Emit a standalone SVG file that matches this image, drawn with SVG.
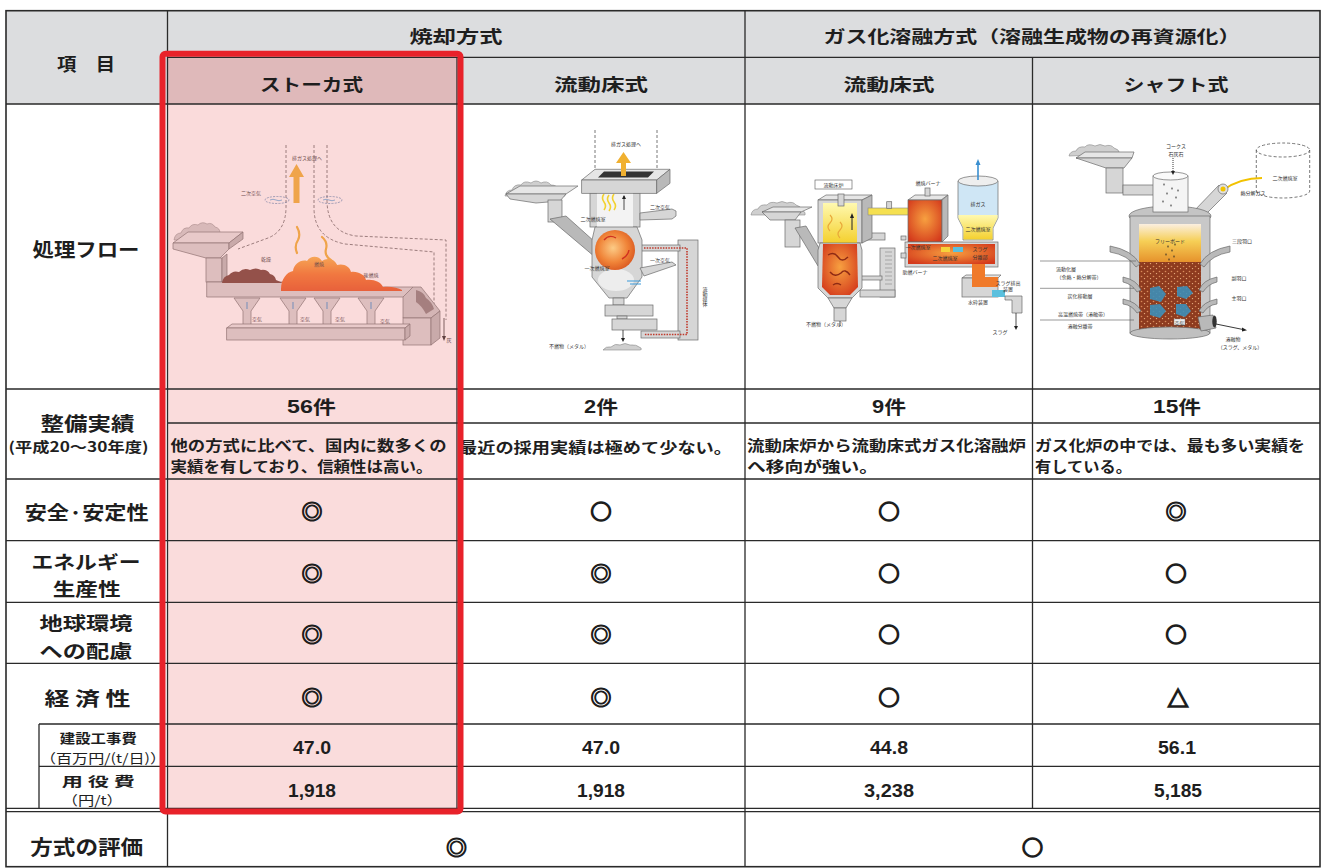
<svg xmlns="http://www.w3.org/2000/svg" width="1323" height="868" viewBox="0 0 1323 868">
<defs>
<style>
.j{font-family:"Noto Sans CJK JP","Noto Sans CJK SC",sans-serif;font-weight:700;fill:#1e1e1e;text-anchor:middle;dominant-baseline:central}
.r{font-weight:400}
.d{font-family:"Noto Sans CJK JP","Noto Sans CJK SC",sans-serif;font-weight:700;fill:#1e1e1e;dominant-baseline:central;font-size:14.5px}
.n{font-family:"Liberation Sans",Arial,sans-serif;font-weight:700;fill:#1e1e1e;text-anchor:middle;dominant-baseline:central;font-size:17.5px}
.m{font-family:"Noto Sans CJK JP","Noto Sans CJK SC",sans-serif;font-weight:700;fill:#1e1e1e;stroke:#1e1e1e;stroke-width:1;text-anchor:middle;dominant-baseline:central;font-size:21px}
.o{stroke-width:1.6}
.s{font-family:"Noto Sans CJK JP","Noto Sans CJK SC",sans-serif;font-weight:400;fill:#333;text-anchor:middle;dominant-baseline:central;font-size:5px}
.ln{stroke:#2a2a2a;stroke-width:1.3;fill:none}
.dash{stroke:#555;stroke-width:.8;stroke-dasharray:3 2;fill:none}
.gr{fill:#d6d6d6;stroke:#6a6a6a;stroke-width:.7}
.gl{fill:#e6e6e6;stroke:#6a6a6a;stroke-width:.7}
.gd{fill:#b9b9b9;stroke:#6a6a6a;stroke-width:.7}
.pile{fill:#cfcfcf;stroke:#8a8a8a;stroke-width:.6}
</style>
<linearGradient id="flame" x1="0" y1="0" x2="0" y2="1"><stop offset="0" stop-color="#F9B240"/><stop offset=".5" stop-color="#F27222"/><stop offset="1" stop-color="#E5501B"/></linearGradient>
<radialGradient id="ball" cx=".45" cy=".45" r=".6"><stop offset="0" stop-color="#FCCB86"/><stop offset=".6" stop-color="#F08438"/><stop offset="1" stop-color="#D9561F"/></radialGradient>
<linearGradient id="yel" x1="0" y1="0" x2="0" y2="1"><stop offset="0" stop-color="#FFF9B0"/><stop offset="1" stop-color="#F4D02E"/></linearGradient>
<radialGradient id="red" cx=".5" cy=".45" r=".65"><stop offset="0" stop-color="#F7A040"/><stop offset="1" stop-color="#D43A1C"/></radialGradient>
<linearGradient id="shaft" x1="0" y1="0" x2="0" y2="1"><stop offset="0" stop-color="#FBEFE0"/><stop offset=".45" stop-color="#F6CF56"/><stop offset="1" stop-color="#E6922C"/></linearGradient>
<pattern id="speck" width="6" height="5" patternUnits="userSpaceOnUse"><rect width="6" height="5" fill="#8E3B1F"/><circle cx="1.5" cy="1.5" r=".8" fill="#D98A5A"/><circle cx="4.5" cy="3.6" r=".7" fill="#EDB585"/></pattern>
</defs>

<!-- backgrounds -->
<g id="fills">
<rect x="0" y="0" width="1323" height="868" fill="#ffffff"/>
<rect x="6" y="10.7" width="1314" height="93.3" fill="#DCDDDF"/>
<rect x="167.5" y="57.3" width="289.5" height="46.7" fill="#DFB9BA"/>
<rect x="167.5" y="389" width="289.5" height="419.3" fill="#FADCDC"/>
</g>

<!-- 処理フロー: ストーカ式 -->
<g id="flow-stoker">
<path class="dash" d="M286,145 V207 Q286,231 268,238 L238,249"/>
<path class="dash" d="M314,145 V208 Q314,238 345,244 L434,252 V312"/>
<path class="dash" d="M327,145 V200 Q327,232 356,236 L446,240 V320"/>
<text class="s" x="307" y="157">排ガス処理へ</text>
<text class="s" x="251" y="192">二次空気</text>
<ellipse cx="277" cy="200" rx="12" ry="3.5" fill="none" stroke="#4d7fb0" stroke-width=".7" stroke-dasharray="2 1.2"/>
<ellipse cx="330" cy="200" rx="12" ry="3.5" fill="none" stroke="#4d7fb0" stroke-width=".7" stroke-dasharray="2 1.2"/>
<path d="M270,200 q3,-1.5 6,0 t6,0 M323,200 q3,-1.5 6,0 t6,0" stroke="#4d9fd8" stroke-width=".8" fill="none"/>
<polygon points="293.5,203 299.5,203 299.5,177 304,177 296.5,164 289,177 293.5,177" fill="#F0B030"/>
<path d="M297,253 q-3,-7 1,-13 q3,-6 -1,-13 M322,237 q6,5 4,12 q-2,7 6,12 q4,4 7,9" stroke="#F0B030" stroke-width="2.2" fill="none" stroke-linecap="round"/>
<path class="pile" d="M174,240 q1,-7 7,-7 q2,-6 8,-5 q3,-5 9,-3 q4,-4 9,-1 q5,-2 8,3 q5,1 5,6 q4,2 2,7 Z"/>
<polygon class="gl" points="173,243 188,232 243,232 229,243"/>
<polygon class="gr" points="173,243 229,243 229,249 220,258 206,258 173,249"/>
<polygon class="gd" points="229,243 243,232 243,239 229,249"/>
<rect class="gr" x="206" y="258" width="16" height="24"/>
<polygon class="gd" points="222,258 227,254 227,280 222,282"/>
<polygon class="gr" points="206.7,282 283,282 288,287 413,287 413,297 206.7,297"/>
<path d="M222,283 q1,-7 7,-8 q4,-5 10,-3 q5,-5 11,-2 q6,-3 11,0 q6,-1 9,4 q5,1 6,6 L283,283 Z" fill="#6E3A30"/>
<path d="M281,289 C281,279 287,272 293,271 C294,264 301,259 307,261 C311,255 319,256 322,261 C327,257 335,259 337,265 C344,263 350,267 351,272 C358,271 365,275 366,280 C374,279 381,282 383,287 C391,286 398,288 402,290 L402,291 L281,291 Z" fill="url(#flame)"/>
<polygon points="413,287 421,287 440,311 431,318 403,318 403,297" fill="#c9c9c9" stroke="#6a6a6a" stroke-width=".7"/>
<path d="M416,290 q8,2 10,8 q6,4 8,11 l-8,5 q-4,-8 -10,-12 Z" fill="#5a4a4a" opacity=".6"/>
<rect class="gr" x="403" y="318" width="28" height="27"/>
<polygon class="gd" points="431,318 440,311 440,338 431,345"/>
<g id="air-hoppers">
<polygon class="gr" points="234,298 260,298 251,311 251,326 243,326 243,311"/>
<polygon class="gr" points="280,298 306,298 297,311 297,326 289,326 289,311"/>
<polygon class="gr" points="314,298 340,298 331,311 331,326 323,326 323,311"/>
<polygon class="gr" points="358,298 384,298 375,311 375,326 367,326 367,311"/>
<path d="M247,309 V302 M293,309 V302 M327,309 V302 M371,309 V302" stroke="#3f8fd0" stroke-width="1"/>
</g>
<polygon class="gl" points="226.7,328 232,324 410,324 405,328"/>
<rect class="gr" x="226.7" y="328" width="178.3" height="12"/>
<polygon class="gd" points="405,328 410,324 410,336 405,340"/>
<line x1="444" y1="318" x2="444" y2="337" stroke="#222" stroke-width=".8"/>
<polygon points="442,336 446,336 444,341" fill="#222"/>
<text class="s" x="449" y="339">灰</text>
<text class="s" x="266" y="258">乾燥</text>
<text class="s" x="319" y="263">燃焼</text>
<text class="s" x="371" y="274">後燃焼</text>
<text class="s" x="257" y="318">空気</text>
<text class="s" x="305" y="318">空気</text>
<text class="s" x="340" y="318">空気</text>
<text class="s" x="385" y="320">空気</text>
</g>
<rect x="167.5" y="104" width="289.5" height="285" fill="#EE8787" opacity=".3"/>

<!-- 処理フロー: 焼却 流動床式 -->
<g id="flow-fluidized">
<path class="dash" d="M595,130 V169 M657,130 V169"/>
<text class="s" x="626" y="143">排ガス処理へ</text>
<path class="pile" d="M505,196 q1,-6 7,-6 q2,-6 9,-5 q3,-5 10,-2 q5,-4 10,0 q6,-3 10,2 q6,0 8,5 q6,1 6,6 Z"/>
<polygon class="gl" points="506,194 520,186 578,186 566,194"/>
<polygon class="gr" points="506,194 566,194 560,201 536,203 510,199"/>
<rect class="gr" x="548" y="200" width="14" height="22"/>
<polygon class="gd" points="550,219 566,216 595,242 595,257"/>
<rect class="gr" x="678" y="240" width="20" height="100"/>
<rect class="gr" x="641" y="245" width="39" height="6"/>
<rect class="gr" x="641" y="331" width="39" height="7"/>
<path d="M644,248 H687 V334.5 H644" stroke="#C0392B" stroke-width="1.6" stroke-dasharray="1.5 1.2" fill="none"/>
<text class="s" x="705" y="297" style="writing-mode:vertical-rl">流動媒体</text>
<rect class="gr" x="590" y="193" width="50" height="34"/>
<rect x="597" y="193" width="36" height="34" fill="#f3f3f3"/>
<path d="M604,210 q3,-4 0,-8 q-3,-4 0,-8 M609,211 q3,-4 0,-8 q-3,-4 0,-8 M614,210 q3,-4 0,-8 q-3,-4 0,-8" stroke="#F2D230" stroke-width="1.6" fill="none"/>
<polygon class="gr" points="640,213 672,209 676,211 676,216 672,219 640,220"/>
<text class="s" x="660" y="206">二次空気</text>
<text class="s" x="593" y="218">二次燃焼室</text>
<line x1="624" y1="196" x2="624" y2="210" stroke="#222" stroke-width=".8"/>
<polygon points="622,199 626,199 624,195" fill="#222"/>
<path class="gr" d="M595,227 L637,227 L642,240 L642,277 L627,298 L609,298 L592,277 L592,240 Z"/>
<ellipse cx="616" cy="280" rx="18" ry="11" fill="#ededed"/>
<circle cx="615" cy="250" r="20" fill="url(#ball)"/>
<path d="M604,240 q5,-6 12,-2 M622,259 q6,-3 7,-9" stroke="#D03020" stroke-width="1.4" fill="none"/>
<polygon class="gr" points="640,268 672,262 676,265 644,276"/>
<path d="M627,281 H641 M630,284 H641" stroke="#3A9AD9" stroke-width="1.2"/>
<text class="s" x="660" y="259">一次空気</text>
<text class="s" x="597" y="267">一次燃焼室</text>
<rect class="gr" x="613" y="298" width="11" height="7"/>
<rect class="gr" x="605" y="305" width="48" height="11"/>
<rect class="gr" x="617" y="316" width="10" height="3"/>
<rect class="gr" x="612" y="319" width="45" height="11"/>
<line x1="623" y1="330" x2="623" y2="339" stroke="#222" stroke-width=".8"/>
<polygon points="621,338 625,338 623,342" fill="#222"/>
<path class="pile" d="M603,350 q3,-4 8,-3 q4,-4 9,-2 q5,-3 10,0 q6,-1 11,3 q1,2 -1,2 Z"/>
<text class="s" x="569" y="345">不燃物（メタル）</text>
<polygon class="gl" points="581.7,180 595,169.3 670,169.3 656.7,180"/>
<polygon points="598,177.5 604,171.5 654,171.5 648,177.5" fill="#333"/>
<rect class="gr" x="581.7" y="180" width="75" height="13.3"/>
<polygon class="gd" points="656.7,180 670,169.3 670,183.3 656.7,193.3"/>
<polygon points="621,176 626,176 626,163 631,163 623.5,152 616,163 621,163" fill="#F0B030"/>
</g>

<!-- 処理フロー: ガス化 流動床式 -->
<g id="flow-gasfluid">
<path class="pile" d="M751,215 q1,-6 7,-6 q2,-5 9,-4 q3,-4 10,-2 q5,-3 10,0 q6,-2 9,2 q5,1 7,6 q3,1 2,4 Z"/>
<polygon class="gl" points="762,212 773,207 812,207 801,212"/>
<polygon class="gr" points="762,212 801,212 795,220 770,220"/>
<rect class="gr" x="785" y="220" width="15" height="27"/>
<polygon class="gd" points="795,228 806,226 826,260 818,266"/>
<rect x="815" y="180" width="37" height="9" fill="#fff" stroke="#555" stroke-width=".6"/>
<text class="s" x="833.5" y="184.5">流動床炉</text>
<rect class="gr" x="860" y="233" width="25" height="7"/>
<rect class="gr" x="880" y="248" width="15" height="49"/>
<path d="M885,252 H892 M885,256 H892 M885,260 H892 M885,264 H892 M885,268 H892 M885,272 H892 M885,276 H892 M885,280 H892 M885,284 H892" stroke="#777" stroke-width=".5"/>
<rect class="gr" x="860" y="276" width="22" height="4"/>
<rect class="gr" x="860" y="290" width="35" height="7"/>
<polygon class="gl" points="818,200 826,195 872,195 862,200"/>
<rect class="gr" x="818" y="200" width="44" height="43"/>
<rect x="823" y="203" width="34" height="40" fill="url(#yel)"/>
<polygon class="gd" points="862,200 872,195 872,238 862,243"/>
<rect class="gr" x="838" y="194" width="6" height="12"/>
<line x1="852" y1="230" x2="852" y2="216" stroke="#222" stroke-width="1"/>
<polygon points="850,218 854,218 852,213" fill="#222"/>
<path d="M830,215 q4,4 0,8 q-4,4 0,8 M840,222 q4,4 0,8 q-4,4 0,8" stroke="#E9A93A" stroke-width="1.2" fill="none"/>
<path class="gr" d="M820,243 L860,243 L862,250 L862,288 L852,298 L828,298 L818,288 L818,250 Z"/>
<path d="M823,244 L857,244 L858,287 L850,295 L830,295 L822,287 Z" fill="url(#red)"/>
<path d="M828,255 q6,-4 10,2 q4,6 10,0 M830,272 q5,6 11,1 q4,-5 9,2 M833,285 q4,-3 8,0" stroke="#8E2A14" stroke-width="1.4" fill="none"/>
<polygon class="gr" points="828,298 852,298 846,308 834,308"/>
<rect class="gr" x="834" y="308" width="12" height="13"/>
<line x1="840" y1="321" x2="840" y2="326" stroke="#222" stroke-width=".8"/>
<text class="s" x="826" y="323">不燃物（メタル）</text>
<rect x="868" y="208" width="44" height="7" fill="#F5E050" stroke="#888" stroke-width=".6"/>
<rect class="gr" x="886.7" y="201.7" width="5" height="6.6"/>
<polygon class="gl" points="908,200 915,195 948,195 941,200"/>
<rect x="908" y="200" width="34" height="42" fill="url(#red)" stroke="#6a6a6a" stroke-width=".7"/>
<polygon class="gd" points="942,200 948,195 948,236 942,242"/>
<rect class="gr" x="925" y="188" width="5" height="8"/>
<text class="s" x="928" y="182">燃焼バーナ</text>
<rect class="gr" x="905" y="242" width="93" height="25"/>
<rect x="908" y="244" width="87" height="20" fill="url(#red)"/>
<rect x="941" y="247" width="9" height="5" fill="#F5D33A"/>
<rect x="953" y="247" width="10" height="5" fill="#5BC0DE"/>
<rect class="gr" x="901" y="236" width="5" height="4"/>
<rect class="gr" x="901" y="253" width="5" height="5"/>
<text class="s" x="918" y="246">一次燃焼室</text>
<text class="s" x="945" y="257">二次燃焼室</text>
<text class="s" x="980" y="248">スラグ</text>
<text class="s" x="980" y="256">分離部</text>
<text class="s" x="915" y="271">助燃バーナ</text>
<path d="M958,181 L958,218 L963,228 L963,240 L993,240 L993,228 L998,218 L998,181 Z" fill="#cfe6f5" stroke="#6a6a6a" stroke-width=".7"/>
<path d="M958.4,215 L958.4,218 L963.4,228 L963.4,239.6 L992.6,239.6 L992.6,228 L997.6,218 L997.6,215 Z" fill="url(#yel)"/>
<ellipse cx="978" cy="181" rx="20" ry="5" fill="#eeeeee" stroke="#6a6a6a" stroke-width=".7"/>
<line x1="978" y1="180" x2="978" y2="164" stroke="#3A8FD0" stroke-width="1.6"/>
<polygon points="975.5,165 980.5,165 978,159" fill="#3A8FD0"/>
<text class="s" x="978" y="203">排ガス</text>
<text class="s" x="978" y="228">二次燃焼室</text>
<polygon class="gl" points="962,278 966,275 1001,275 998,278"/>
<rect class="gr" x="962" y="278" width="36" height="19"/>
<path d="M972,264 H985 V277 H998 V287 H972 Z" fill="#F07A2A"/>
<rect x="992" y="290" width="13" height="7" fill="#5BC0DE"/>
<polygon class="gr" points="1005,296 1022,296 1022,313 1012,313 1012,300 1005,300"/>
<line x1="1016" y1="313" x2="1016" y2="327" stroke="#222" stroke-width=".8"/>
<polygon points="1014,326 1018,326 1016,330" fill="#222"/>
<text class="s" x="1008" y="282">スラグ排出</text>
<text class="s" x="1008" y="288">装置</text>
<text class="s" x="978" y="301">水砕装置</text>
<text class="s" x="1000" y="331">スラグ</text>
</g>

<!-- 処理フロー: シャフト式 -->
<g id="flow-shaft">
<path class="pile" d="M1069,156 q1,-5 7,-5 q2,-5 9,-4 q3,-4 10,-1 q5,-3 10,0 q6,-2 9,2 q5,1 6,6 Z"/>
<polygon class="gl" points="1076,158 1085,152 1134,152 1132,158"/>
<polygon class="gr" points="1076,158 1132,158 1124,168 1106,168"/>
<rect class="gr" x="1106" y="168" width="17" height="25"/>
<rect class="gr" x="1123" y="185" width="33" height="10"/>
<path class="dash" d="M1256.3,150 V191 M1309.7,150 V191 M1256.3,191 A26.7,7 0 0 0 1309.7,191"/>
<ellipse cx="1283" cy="150" rx="26.7" ry="7" fill="none" stroke="#555" stroke-width=".8" stroke-dasharray="3 2"/>
<text class="s" x="1285" y="177">二次燃焼室</text>
<text class="s" x="1253" y="192">熱分解ガス</text>
<path d="M1223,190 Q1240,178 1262,178" stroke="#F2C200" stroke-width="2" fill="none"/>
<polygon class="gr" points="1193,212 1219,185 1227,193 1201,219"/>
<circle cx="1223" cy="189" r="5" fill="#e0e0e0" stroke="#6a6a6a" stroke-width=".7"/>
<circle cx="1223" cy="189" r="2.5" fill="#F2C200"/>
<ellipse cx="1170" cy="216" rx="41" ry="10" fill="#c4c4c4" stroke="#6a6a6a" stroke-width=".7"/>
<rect x="1130" y="216" width="80" height="117" fill="#c8c8c8" stroke="#6a6a6a" stroke-width=".7"/>
<rect x="1139" y="224" width="62" height="38" fill="url(#shaft)"/>
<rect x="1139" y="262" width="62" height="68" fill="url(#speck)"/>
<path d="M1150,288 l9,-2 l7,8 l-5,8 l-11,-3 Z M1177,287 l10,-1 l6,7 l-7,6 l-9,-3 Z M1150,305 l10,-1 l6,7 l-6,7 l-10,-3 Z M1176,304 l10,0 l5,7 l-6,6 l-9,-3 Z" fill="#3D8FB8" opacity=".9"/>
<path d="M1168,246 v1 M1172,250 v1 M1166,254 v1 M1174,256 v1 M1169,259 v1 M1175,244 v1" stroke="#222" stroke-width="1" stroke-linecap="round"/>
<text class="s" x="1170" y="240">フリーボード</text>
<ellipse cx="1170" cy="333" rx="40" ry="6" fill="#c0c0c0" stroke="#6a6a6a" stroke-width=".7"/>
<rect x="1153" y="176" width="35" height="36" fill="#f4f4f4" stroke="#6a6a6a" stroke-width=".7"/>
<ellipse cx="1170.5" cy="176" rx="17.5" ry="4" fill="#fafafa" stroke="#6a6a6a" stroke-width=".7"/>
<path d="M1164,184 v1 M1172,188 v1 M1167,193 v1 M1176,197 v1 M1163,201 v1 M1171,205 v1 M1178,190 v1" stroke="#222" stroke-width="1" stroke-linecap="round"/>
<line x1="1173" y1="158" x2="1173" y2="172" stroke="#222" stroke-width=".9" stroke-dasharray="1 1"/>
<polygon points="1171,171 1175,171 1173,175" fill="#222"/>
<text class="s" x="1176" y="145">コークス</text>
<text class="s" x="1176" y="153">石灰石</text>
<g id="tuyeres">
<path class="gd" d="M1110,246 Q1132,250 1140,264 L1136,267 Q1128,255 1110,252 Z"/>
<path class="gd" d="M1230,246 Q1208,250 1200,264 L1204,267 Q1212,255 1230,252 Z"/>
<path class="gd" d="M1123,277 Q1137,280 1141,290 L1137,292 Q1132,284 1123,282 Z"/>
<path class="gd" d="M1217,277 Q1203,280 1199,290 L1203,292 Q1208,284 1217,282 Z"/>
<path class="gd" d="M1123,299 Q1137,302 1141,311 L1137,313 Q1132,305 1123,304 Z"/>
<path class="gd" d="M1217,299 Q1203,302 1199,311 L1203,313 Q1208,305 1217,304 Z"/>
</g>
<path d="M1040,261 H1136 M1040,288.3 H1134 M1040,320 H1134" stroke="#555" stroke-width=".6"/>
<text class="s" x="1066" y="268.5">流動化層</text>
<text class="s" x="1079" y="276.5">（余熱・熱分解帯）</text>
<text class="s" x="1080" y="295">炭化移動層</text>
<text class="s" x="1083" y="313.5">高温燃焼帯（溶融帯）</text>
<text class="s" x="1080" y="325">溶融分離帯</text>
<text class="s" x="1242" y="240">三段羽口</text>
<text class="s" x="1239" y="277">副羽口</text>
<text class="s" x="1239" y="297">主羽口</text>
<polygon class="gd" points="1198,317 1213,315 1216,328 1201,331"/>
<ellipse cx="1214.5" cy="321.5" rx="2.2" ry="6" fill="#333"/>
<line x1="1216" y1="324" x2="1243" y2="329.5" stroke="#222" stroke-width=".9"/>
<polygon points="1242,327.5 1242,331.5 1247,330.2" fill="#222"/>
<rect x="1174" y="319" width="11" height="6" fill="#eee" stroke="#777" stroke-width=".4"/>
<text class="s" x="1179.5" y="322">空気</text>
<text class="s" x="1233" y="338">溶融物</text>
<text class="s" x="1240" y="346.5">（スラグ、メタル）</text>
</g>

<!-- table grid -->
<g id="grid">
<rect x="6" y="10.7" width="1314" height="856" fill="none" stroke="#2a2a2a" stroke-width="1.6"/>
<path class="ln" d="M167.5,57.3 H1320 M6,104 H1320 M6,389 H1320 M167.5,423 H1320 M6,479 H1320 M6,540.7 H1320 M6,602.3 H1320 M6,663.3 H1320 M39,724 H1320 M39,766.3 H1320 M6,808.3 H1320 M6,811.7 H1320"/>
<path class="ln" d="M167.5,10.7 V866.7 M745,10.7 V866.7 M457,57.3 V808.3 M1032.5,57.3 V808.3 M39,724 V808.3"/>
</g>

<!-- header -->
<g id="header">
<text class="j" x="86" y="62.5" font-size="18" textLength="58" lengthAdjust="spacingAndGlyphs">項　目</text>
<text class="j" x="456" y="35.5" font-size="17" textLength="93" lengthAdjust="spacingAndGlyphs">焼却方式</text>
<text class="j" x="1032" y="35.5" font-size="17" textLength="417" lengthAdjust="spacingAndGlyphs">ガス化溶融方式（溶融生成物の再資源化）</text>
<text class="j" x="311.5" y="83" font-size="17" textLength="103" lengthAdjust="spacingAndGlyphs">ストーカ式</text>
<text class="j" x="601" y="83" font-size="17" textLength="94" lengthAdjust="spacingAndGlyphs">流動床式</text>
<text class="j" x="889" y="83" font-size="17" textLength="91" lengthAdjust="spacingAndGlyphs">流動床式</text>
<text class="j" x="1176" y="83" font-size="17" textLength="105" lengthAdjust="spacingAndGlyphs">シャフト式</text>
</g>

<!-- row labels -->
<g id="labels">
<text class="j" x="86" y="248" font-size="19.5" textLength="107" lengthAdjust="spacingAndGlyphs">処理フロー</text>
<text class="j" x="87.5" y="422" font-size="19" textLength="94" lengthAdjust="spacingAndGlyphs">整備実績</text>
<text class="j" x="78.5" y="446" font-size="14" textLength="140" lengthAdjust="spacingAndGlyphs">(平成20～30年度)</text>
<text class="j" x="86.7" y="511" font-size="19" textLength="124" lengthAdjust="spacingAndGlyphs">安全·安定性</text>
<text class="j" x="86" y="561" font-size="18.5" textLength="109" lengthAdjust="spacingAndGlyphs">エネルギー</text>
<text class="j" x="86.7" y="588" font-size="18.5" textLength="68" lengthAdjust="spacingAndGlyphs">生産性</text>
<text class="j" x="86" y="622" font-size="18.5" textLength="93" lengthAdjust="spacingAndGlyphs">地球環境</text>
<text class="j" x="86" y="650" font-size="18.5" textLength="93" lengthAdjust="spacingAndGlyphs">への配慮</text>
<text class="j" x="87.5" y="697" font-size="19" textLength="86" lengthAdjust="spacingAndGlyphs">経 済 性</text>
<text class="j" x="98.3" y="737" font-size="13" textLength="77" lengthAdjust="spacingAndGlyphs">建設工事費</text>
<text class="j r" x="103" y="757" font-size="13" textLength="126" lengthAdjust="spacingAndGlyphs">（百万円/(t/日)）</text>
<text class="j" x="98.3" y="780" font-size="13" textLength="73" lengthAdjust="spacingAndGlyphs">用 役 費</text>
<text class="j r" x="92.3" y="799.5" font-size="13" textLength="61" lengthAdjust="spacingAndGlyphs">（円/t）</text>
<text class="j" x="86.7" y="846" font-size="20" textLength="113" lengthAdjust="spacingAndGlyphs">方式の評価</text>
</g>

<!-- 整備実績 -->
<g id="record">
<text class="j" x="311.5" y="406" font-size="18.5" textLength="49" lengthAdjust="spacingAndGlyphs"><tspan font-family="Liberation Sans">56</tspan>件</text>
<text class="j" x="601" y="406" font-size="18.5" textLength="34" lengthAdjust="spacingAndGlyphs"><tspan font-family="Liberation Sans">2</tspan>件</text>
<text class="j" x="889" y="406" font-size="18.5" textLength="34" lengthAdjust="spacingAndGlyphs"><tspan font-family="Liberation Sans">9</tspan>件</text>
<text class="j" x="1177" y="406" font-size="18.5" textLength="48" lengthAdjust="spacingAndGlyphs"><tspan font-family="Liberation Sans">15</tspan>件</text>
<text class="d" x="170.5" y="444" textLength="276" lengthAdjust="spacingAndGlyphs">他の方式に比べて、国内に数多くの</text>
<text class="d" x="170.5" y="465" textLength="262" lengthAdjust="spacingAndGlyphs">実績を有しており、信頼性は高い。</text>
<text class="d" x="459" y="446" textLength="273" lengthAdjust="spacingAndGlyphs">最近の採用実績は極めて少ない。</text>
<text class="d" x="747" y="444" textLength="279" lengthAdjust="spacingAndGlyphs">流動床炉から流動床式ガス化溶融炉</text>
<text class="d" x="747" y="465" textLength="131" lengthAdjust="spacingAndGlyphs">へ移向が強い。</text>
<text class="d" x="1035" y="444" textLength="270" lengthAdjust="spacingAndGlyphs">ガス化炉の中では、最も多い実績を</text>
<text class="d" x="1035" y="465" textLength="97" lengthAdjust="spacingAndGlyphs">有している。</text>
</g>

<!-- evaluation marks -->
<g id="marks">
<text class="m" x="312" y="510">◎</text>
<text class="m o" x="601" y="510">○</text>
<text class="m o" x="889" y="510">○</text>
<text class="m" x="1176" y="510">◎</text>
<text class="m" x="312" y="571.5">◎</text>
<text class="m" x="601" y="571.5">◎</text>
<text class="m o" x="889" y="571.5">○</text>
<text class="m o" x="1176" y="571.5">○</text>
<text class="m" x="312" y="633">◎</text>
<text class="m" x="601" y="633">◎</text>
<text class="m o" x="889" y="633">○</text>
<text class="m o" x="1176" y="633">○</text>
<text class="m" x="312" y="696">◎</text>
<text class="m" x="601" y="696">◎</text>
<text class="m o" x="889" y="696">○</text>
<text class="m o" x="1178" y="697" font-size="19">△</text>
<text class="m" x="456.5" y="846" font-size="23">◎</text>
<text class="m o" x="1032.5" y="846" font-size="23">○</text>
</g>

<!-- costs -->
<g id="costs">
<text class="n" x="312" y="748" textLength="38" lengthAdjust="spacingAndGlyphs">47.0</text>
<text class="n" x="601" y="748" textLength="38" lengthAdjust="spacingAndGlyphs">47.0</text>
<text class="n" x="889" y="748" textLength="38" lengthAdjust="spacingAndGlyphs">44.8</text>
<text class="n" x="1177" y="748" textLength="38" lengthAdjust="spacingAndGlyphs">56.1</text>
<text class="n" x="312" y="790.5" textLength="48" lengthAdjust="spacingAndGlyphs">1,918</text>
<text class="n" x="601" y="790.5" textLength="48" lengthAdjust="spacingAndGlyphs">1,918</text>
<text class="n" x="889" y="790.5" textLength="50" lengthAdjust="spacingAndGlyphs">3,238</text>
<text class="n" x="1178" y="790.5" textLength="48" lengthAdjust="spacingAndGlyphs">5,185</text>
</g>

<!-- highlight frame -->
<g id="highlight">
<rect x="162.5" y="53.7" width="298" height="757.8" rx="3" fill="none" stroke="#E8222A" stroke-width="6"/>
</g>
</svg>
